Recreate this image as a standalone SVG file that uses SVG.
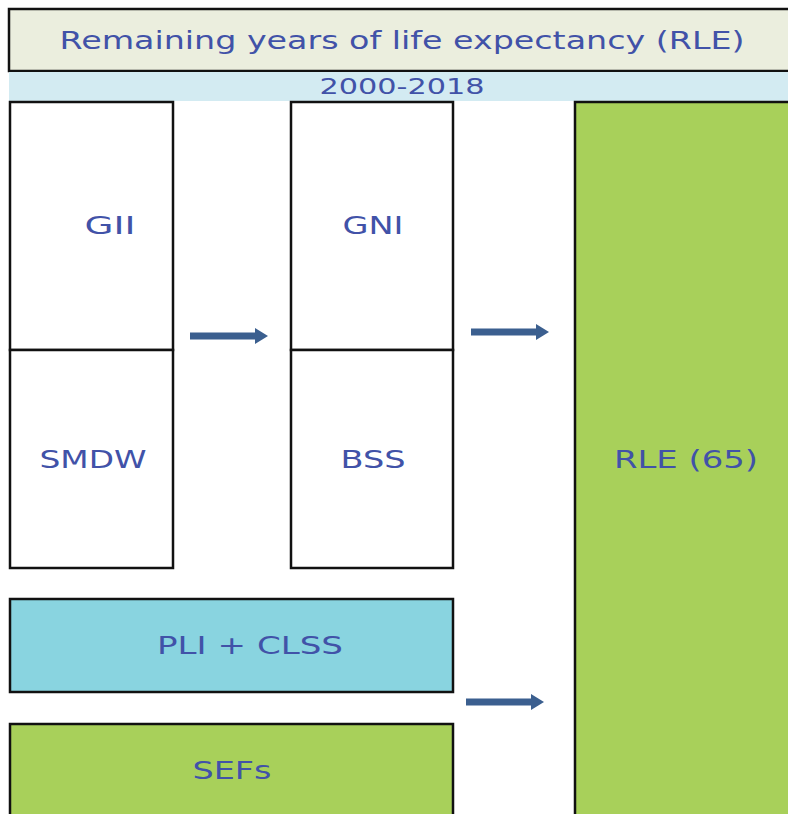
<svg xmlns="http://www.w3.org/2000/svg" width="788" height="814" viewBox="0 0 788 814">
  <style>
    .box { stroke: #111; stroke-width: 2.5; }
    .lbl { font-family: "DejaVu Sans", Verdana, sans-serif; font-size: 24px; fill: #4152a8; text-anchor: middle; }
    .arrow { fill: #3b5f8f; }
  </style>
  <rect width="788" height="814" fill="#ffffff"/>

  <!-- Title -->
  <g id="title">
    <rect class="box" x="9" y="9" width="782" height="62" fill="#ebeede"/>
    <text class="lbl" x="402" y="49" textLength="685" lengthAdjust="spacingAndGlyphs">Remaining years of life expectancy (RLE)</text>
  </g>

  <!-- Period band -->
  <g id="period">
    <rect x="9" y="72" width="779" height="29" fill="#d3ebf2"/>
    <text class="lbl" x="402" y="94" textLength="165" lengthAdjust="spacingAndGlyphs" style="font-size:21px">2000-2018</text>
  </g>

  <!-- Left column -->
  <g id="gii">
    <rect class="box" x="10" y="102" width="163" height="248" fill="#ffffff"/>
    <text class="lbl" x="110" y="234" textLength="51" lengthAdjust="spacingAndGlyphs">GII</text>
  </g>
  <g id="smdw">
    <rect class="box" x="10" y="350" width="163" height="218" fill="#ffffff"/>
    <text class="lbl" x="93" y="468" textLength="107" lengthAdjust="spacingAndGlyphs">SMDW</text>
  </g>

  <!-- Middle column -->
  <g id="gni">
    <rect class="box" x="291" y="102" width="162" height="248" fill="#ffffff"/>
    <text class="lbl" x="373" y="234" textLength="61" lengthAdjust="spacingAndGlyphs">GNI</text>
  </g>
  <g id="bss">
    <rect class="box" x="291" y="350" width="162" height="218" fill="#ffffff"/>
    <text class="lbl" x="373" y="468" textLength="65" lengthAdjust="spacingAndGlyphs">BSS</text>
  </g>

  <!-- Outcome -->
  <g id="rle">
    <rect class="box" x="575" y="102" width="220" height="720" fill="#a8d05a"/>
    <text class="lbl" x="686" y="468" textLength="144" lengthAdjust="spacingAndGlyphs">RLE (65)</text>
  </g>

  <!-- Bottom row -->
  <g id="pli-clss">
    <rect class="box" x="10" y="599" width="443" height="93" fill="#89d4e0"/>
    <text class="lbl" x="250" y="654" textLength="186" lengthAdjust="spacingAndGlyphs">PLI + CLSS</text>
  </g>
  <g id="sefs">
    <rect class="box" x="10" y="724" width="443" height="100" fill="#a8d05a"/>
    <text class="lbl" x="232" y="779" textLength="79" lengthAdjust="spacingAndGlyphs">SEFs</text>
  </g>

  <!-- Connectors -->
  <g id="connectors">
    <polygon class="arrow" points="190,332.5 255,332.5 255,328 268,336 255,344 255,339.5 190,339.5"/>
    <polygon class="arrow" points="471,328.5 536,328.5 536,324 549,332 536,340 536,335.5 471,335.5"/>
    <polygon class="arrow" points="466,698.5 531,698.5 531,694 544,702 531,710 531,705.5 466,705.5"/>
  </g>
</svg>
